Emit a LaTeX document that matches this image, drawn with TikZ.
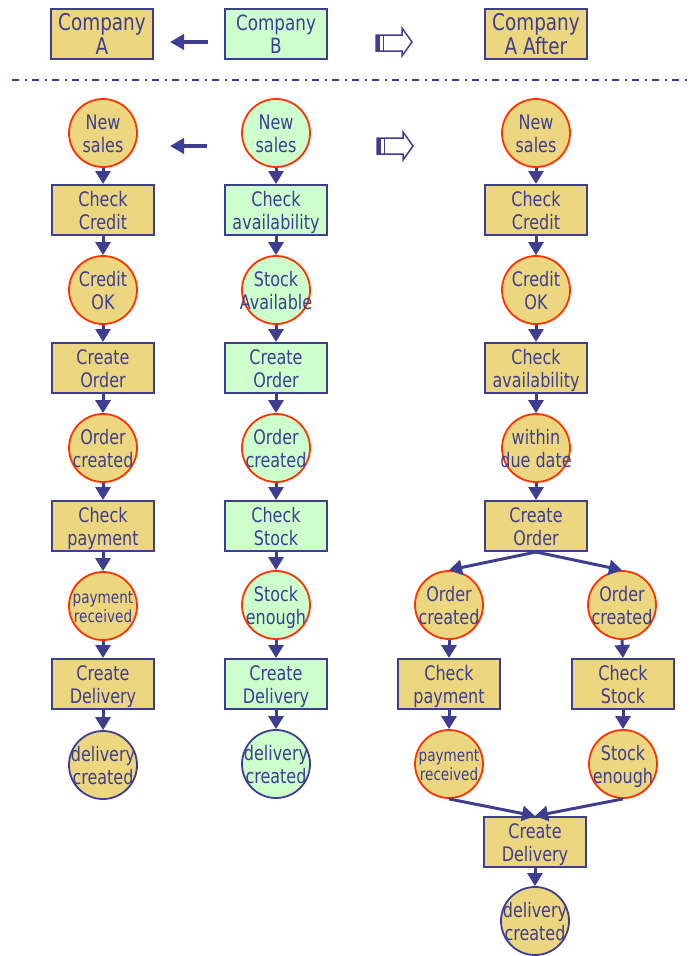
\documentclass[tikz,border=0pt]{standalone}
\usepackage{fontspec}
\setmainfont{DejaVu Sans}[FakeStretch=0.8]
\usetikzlibrary{arrows.meta}
\definecolor{navy}{RGB}{62,62,145}
\definecolor{gold}{RGB}{236,214,128}
\definecolor{mint}{RGB}{204,255,204}
\definecolor{redb}{RGB}{255,51,0}
\newcommand\ctx[1]{\raisebox{-3.5pt}[\height][\depth]{\makebox[20pt]{\begin{tabular}{@{}c@{}}#1\end{tabular}}}}
\begin{document}
\begin{tikzpicture}[x=1pt,y=-1pt, font=\fontsize{20}{23}\selectfont, text=navy,
  box/.style={draw=navy, line width=2pt, minimum width=102pt, minimum height=50pt, inner sep=0pt},
  circ/.style={circle, draw=redb, line width=1.8pt, minimum size=68pt, inner sep=0pt},
  endc/.style={circ, draw=navy},
  small/.style={font=\fontsize{17}{19}\selectfont},
  bigA/.style={font=\fontsize{23}{24}\selectfont},
  bigB/.style={font=\fontsize{21}{23}\selectfont},
  A/.style={fill=gold},
  B/.style={fill=mint},
  flow/.style={draw=navy, line width=3pt, -{Triangle[width=15pt,length=13pt]}},
  hollow/.style={draw=navy, line width=1.5pt, fill=white, line join=miter},
]
\useasboundingbox (0,0) rectangle (692,956);
% header
\node[box,A,bigA] (hA) at (102,34) {\ctx{Company\\A}};
\node[box,B,bigB] (hB) at (276,34) {\ctx{Company\\B}};
\node[box,A,bigA] (hC) at (536,34) {\ctx{Company\\A After}};
\coordinate (ha1) at (208,42);
\coordinate (ha2) at (170,42);
\draw[draw=navy, line width=4pt, -{Triangle[width=15pt,length=14pt]}] (ha1) -- (ha2);
\draw[hollow] (376,35) -- (402,35) -- (402,28) -- (412,42) -- (402,56) -- (402,51) -- (376,51) -- cycle;
\fill[navy] (376,35) rectangle (380,51);
\draw[navy, line width=1pt] (383,35) -- (383,51);
% separator
\coordinate (sl) at (12,80);
\coordinate (sr) at (692,80);
\draw[navy, line width=2.5pt, dash pattern=on 7pt off 6pt on 2pt off 5pt] (sl) -- (sr);
% row 2 arrows
\coordinate (ra1) at (207,146);
\coordinate (ra2) at (170,146);
\draw[draw=navy, line width=4pt, -{Triangle[width=15pt,length=14pt]}] (ra1) -- (ra2);
\draw[hollow] (377,138) -- (403,138) -- (403,132) -- (413,146) -- (403,160) -- (403,154) -- (377,154) -- cycle;
\fill[navy] (377,138) rectangle (381,154);
\draw[navy, line width=1pt] (384,138) -- (384,154);

% Column A
\node[circ,A] (a1) at (103,133) {\ctx{New\\sales}};
\node[box,A]  (a2) at (103,210) {\ctx{Check\\Credit}};
\node[circ,A] (a3) at (103,290) {\ctx{Credit\\OK}};
\node[box,A]  (a4) at (103,368) {\ctx{Create\\Order}};
\node[circ,A] (a5) at (103,448) {\ctx{Order\\created}};
\node[box,A]  (a6) at (103,526) {\ctx{Check\\payment}};
\node[circ,A,small] (a7) at (103,606) {\ctx{payment\\received}};
\node[box,A]  (a8) at (103,684) {\ctx{Create\\Delivery}};
\node[endc,A] (a9) at (103,765) {\ctx{delivery\\created}};
\foreach \i/\j in {a1/a2,a2/a3,a3/a4,a4/a5,a5/a6,a6/a7,a7/a8,a8/a9}
  \draw[flow] (\i.south) -- (\j.north);

% Column B
\node[circ,B] (b1) at (276,133) {\ctx{New\\sales}};
\node[box,B]  (b2) at (276,210) {\ctx{Check\\availability}};
\node[circ,B] (b3) at (276,290) {\ctx{Stock\\Available}};
\node[box,B]  (b4) at (276,368) {\ctx{Create\\Order}};
\node[circ,B] (b5) at (276,448) {\ctx{Order\\created}};
\node[box,B]  (b6) at (276,526) {\ctx{Check\\Stock}};
\node[circ,B] (b7) at (276,605) {\ctx{Stock\\enough}};
\node[box,B]  (b8) at (276,684) {\ctx{Create\\Delivery}};
\node[endc,B] (b9) at (276,764) {\ctx{delivery\\created}};
\foreach \i/\j in {b1/b2,b2/b3,b3/b4,b4/b5,b5/b6,b6/b7,b7/b8,b8/b9}
  \draw[flow] (\i.south) -- (\j.north);

% Column C
\node[circ,A] (c1) at (536,133) {\ctx{New\\sales}};
\node[box,A]  (c2) at (536,210) {\ctx{Check\\Credit}};
\node[circ,A] (c3) at (536,290) {\ctx{Credit\\OK}};
\node[box,A]  (c4) at (536,368) {\ctx{Check\\availability}};
\node[circ,A] (c5) at (536,448) {\ctx{within\\due date}};
\node[box,A]  (c6) at (536,526) {\ctx{Create\\Order}};
\node[circ,A] (l1) at (449,605) {\ctx{Order\\created}};
\node[circ,A] (r1) at (622,605) {\ctx{Order\\created}};
\node[box,A]  (l2) at (449,684) {\ctx{Check\\payment}};
\node[box,A]  (r2) at (623,684) {\ctx{Check\\Stock}};
\node[circ,A,small] (l3) at (449,764) {\ctx{payment\\received}};
\node[circ,A] (r3) at (623,764) {\ctx{Stock\\enough}};
\node[box,A]  (c7) at (535,842) {\ctx{Create\\Delivery}};
\node[endc,A] (c8) at (535,921) {\ctx{delivery\\created}};
\foreach \i/\j in {c1/c2,c2/c3,c3/c4,c4/c5,c5/c6,c6/l1,c6/r1,l1/l2,r1/r2,l2/l3,r2/r3,l3/c7,r3/c7,c7/c8}
  \draw[flow] (\i.south) -- (\j.north);
\end{tikzpicture}
\end{document}
